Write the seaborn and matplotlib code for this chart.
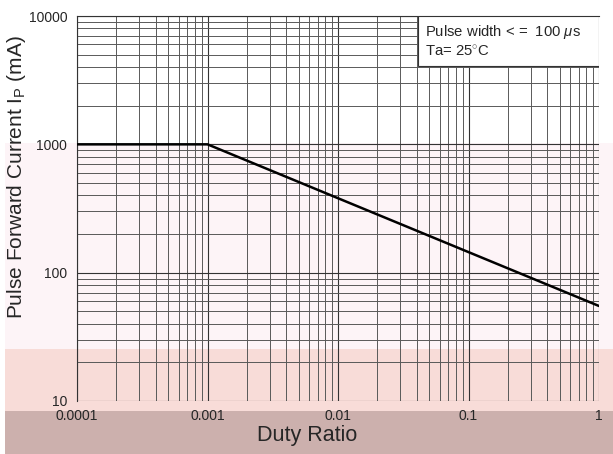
import matplotlib
matplotlib.use("Agg")
import matplotlib.pyplot as plt
import matplotlib.ticker as mticker
from matplotlib.patches import Rectangle
import seaborn as sns

# data
duty = [0.0001, 0.001, 1.0]
ifp_ma = [1000, 1000, 55]

x_ticks = [0.0001, 0.001, 0.01, 0.1, 1]
x_labels = ["0.0001", "0.001", "0.01", "0.1", "1"]
y_ticks = [10, 100, 1000, 10000]
y_labels = ["10", "100", "1000", "10000"]

sns.set_style("white")
plt.rcParams['font.family'] = ['Liberation Sans', 'DejaVu Sans']
plt.rcParams['mathtext.fontset'] = 'custom'
plt.rcParams['mathtext.rm'] = 'Liberation Sans'
plt.rcParams['mathtext.it'] = 'Liberation Sans:italic'

fig = plt.figure(figsize=(6.13, 4.54), dpi=100)
W, H = 613, 454

# tinted bands seen in the reference image
bands = [(143, 349, '#fdf4f7'), (349, 411, '#f8dcd8'), (411, 454, '#ccb0ad')]
for top, bot, col in bands:
    fig.add_artist(Rectangle((5 / W, 1 - bot / H), 1, (bot - top) / H,
                             transform=fig.transFigure, color=col, zorder=-5, lw=0))

ax = fig.add_axes([77 / W, 53 / H, 522 / W, 385 / H])
ax.patch.set_alpha(0)

sns.lineplot(x=duty, y=ifp_ma, ax=ax, color='black', lw=1.8, zorder=3)
ax.set(xscale='log', yscale='log')
ax.set_xlim(0.0001, 1)
ax.set_ylim(10, 10000)

ax.set_xticks(x_ticks)
ax.set_xticklabels(x_labels)
ax.set_yticks(y_ticks)
ax.set_yticklabels(y_labels)
ax.xaxis.set_minor_formatter(mticker.NullFormatter())
ax.yaxis.set_minor_formatter(mticker.NullFormatter())
ax.tick_params(which='both', length=0, labelsize=10)
ax.tick_params(axis='y', pad=7)
ax.tick_params(axis='x', pad=6)

ax.grid(which='major', color='0.2', lw=0.8)
ax.grid(which='minor', color='0.35', lw=0.7)
for s in ax.spines.values():
    s.set_color('0.2')
    s.set_linewidth(0.8)
ax.spines['right'].set_visible(False)
ax.spines['bottom'].set_visible(False)

ax.set_xlabel('')
ax.set_ylabel('')
fig.text(307 / W, 1 - 435 / H, 'Duty Ratio', ha='center', va='center', fontsize=15.5)
fig.text(17 / W, 1 - 177 / H, 'Pulse Forward Current I$_\\mathrm{P}$ (mA)',
         rotation=90, ha='center', va='center', fontsize=15)

# condition box
ax.add_patch(Rectangle((0.653, 0.870), 0.347, 0.130, transform=ax.transAxes,
                       facecolor='white', edgecolor='0.2', lw=0.8, zorder=4))
ax.text(0.667, 0.958, 'Pulse width < =  100 $\\mu$s', transform=ax.transAxes,
        ha='left', va='center', fontsize=10.7, zorder=5)
ax.text(0.667, 0.906, 'Ta= 25$^{\\circ}$C', transform=ax.transAxes,
        ha='left', va='center', fontsize=10.7, zorder=5)

fig.savefig('out.png', dpi=100)
